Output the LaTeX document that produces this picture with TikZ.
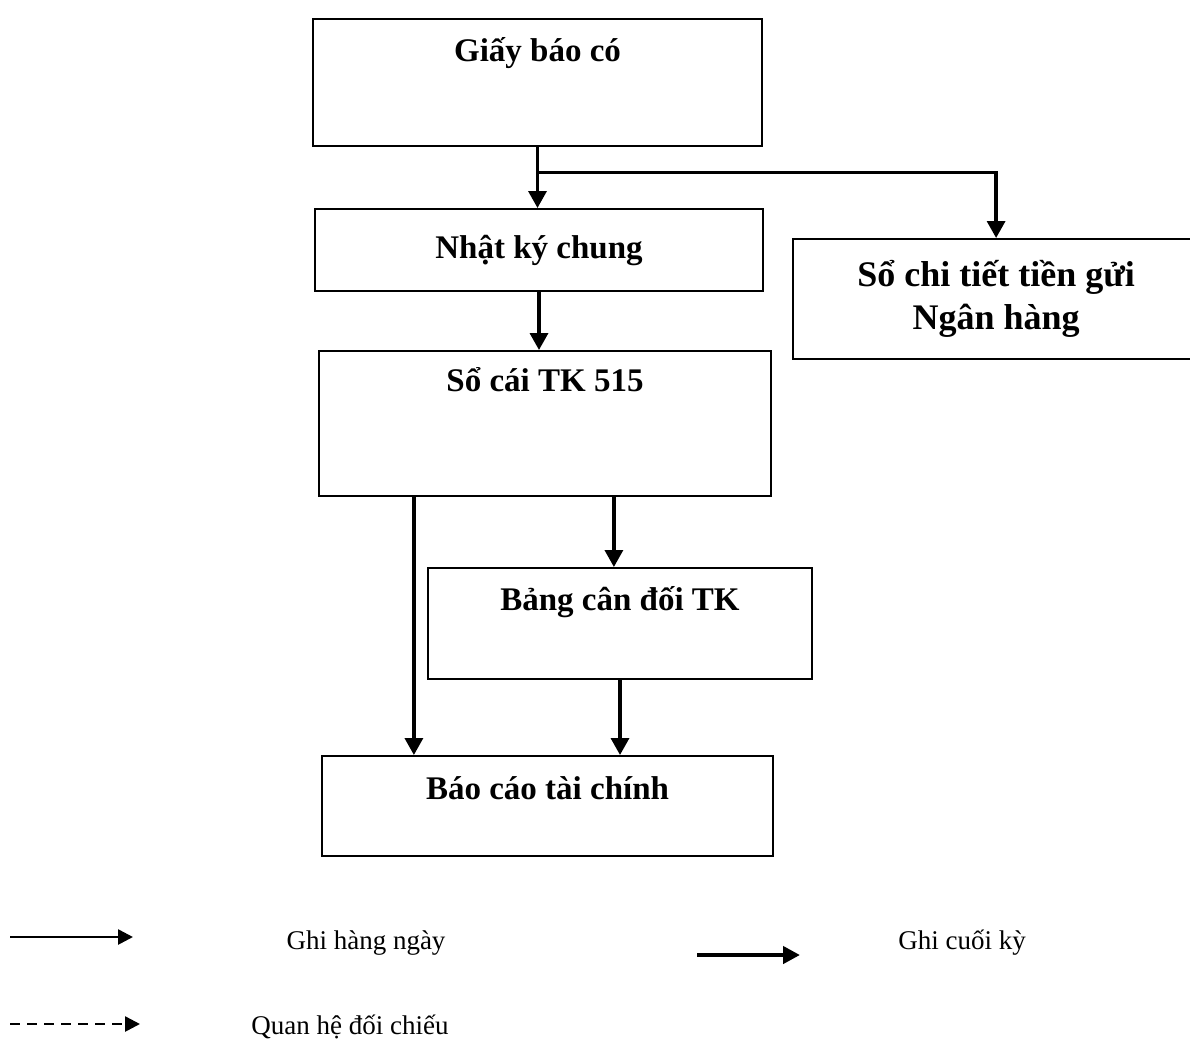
\documentclass[tikz,border=0pt]{standalone}
\usepackage{fontspec}
\setmainfont{Liberation Serif}
\usetikzlibrary{arrows.meta, calc}
\tikzset{
    my-box/.style={
        draw, line width=2.2pt, inner sep=0pt, anchor=north, font=\bfseries\fontsize{33}{40}\selectfont
    },
    my-arrow/.style={
        line width=3.4pt, -{Triangle[width=18pt, length=17pt]}
    },
    my-legend-thin/.style={
        line width=2.6pt, -{Triangle[width=15pt, length=15pt]}
    },
    my-legend-thick/.style={
        line width=4.6pt, -{Triangle[width=17pt, length=17pt]}
    },
    my-legend-dashed/.style={
        line width=2.6pt, dash pattern=on 10pt off 7pt, -{Triangle[width=15pt, length=15pt]}
    },
    my-legend-text/.style={
        inner sep=0pt, font=\fontsize{27}{32}\selectfont
    },
}

\begin{document}
\begin{tikzpicture}[x=1pt, y=-1pt]

        \useasboundingbox (0,0) rectangle (1190,1039);

        % BOXES ---------------------------------------------------------------------------------------
        \node[my-box, minimum width=449pt, text height=42pt, text depth=85pt]  (GBC)   at (537.5, 18) {Giấy báo có};
        \node[my-box, minimum width=448pt, text height=49pt, text depth=33pt]  (NKC)   at (539, 208)  {Nhật ký chung};
        \node[my-box, minimum width=452pt, text height=40pt, text depth=105pt] (SC515) at (545, 350)  {Sổ cái TK 515};
        \node[my-box, minimum width=384pt, text height=42pt, text depth=69pt]  (BCD)   at (620, 567)  {Bảng cân đối TK};
        \node[my-box, minimum width=451pt, text height=43pt, text depth=57pt]  (BCTC)  at (547.5, 755) {Báo cáo tài chính};

        % DETAIL BOOK (RUNS OFF THE RIGHT EDGE)
        \node[my-box, anchor=north west, minimum width=406pt, minimum height=120pt, align=center,
              font=\bfseries\fontsize{36}{43}\selectfont] (SCT) at (792, 238) {Sổ chi tiết tiền gửi\\Ngân hàng};

        % CONNECTORS ----------------------------------------------------------------------------------
        \coordinate (BRANCH) at ($(GBC.south) + (0, 25)$);
        \draw[my-arrow] (GBC.south) -- (GBC.south |- NKC.north);
        \draw[my-arrow] (BRANCH) -| (SCT.north);

        \draw[my-arrow] (NKC.south) -- (NKC.south |- SC515.north);

        \coordinate (SC515L) at ($(SC515.south west) + (96, 0)$);
        \coordinate (SC515R) at ($(SC515.south west) + (296, 0)$);
        \draw[my-arrow] (SC515L) -- (SC515L |- BCTC.north);
        \draw[my-arrow] (SC515R) -- (SC515R |- BCD.north);
        \draw[my-arrow] (BCD.south) -- (BCD.south |- BCTC.north);

        % LEGEND --------------------------------------------------------------------------------------
        \coordinate (DAILYA) at (10, 937);
        \coordinate (DAILYB) at (133, 937);
        \draw[my-legend-thin] (DAILYA) -- (DAILYB);
        \node[my-legend-text] (DAILY) at (366, 943) {Ghi hàng ngày};

        \coordinate (ENDA) at (697, 955);
        \coordinate (ENDB) at (800, 955);
        \draw[my-legend-thick] (ENDA) -- (ENDB);
        \node[my-legend-text] (END) at (962, 943) {Ghi cuối kỳ};

        \coordinate (CHECKA) at (10, 1024);
        \coordinate (CHECKB) at (140, 1024);
        \draw[my-legend-dashed] (CHECKA) -- (CHECKB);
        \node[my-legend-text] (CHECK) at (350, 1027) {Quan hệ đối chiếu};

\end{tikzpicture}
\end{document}
